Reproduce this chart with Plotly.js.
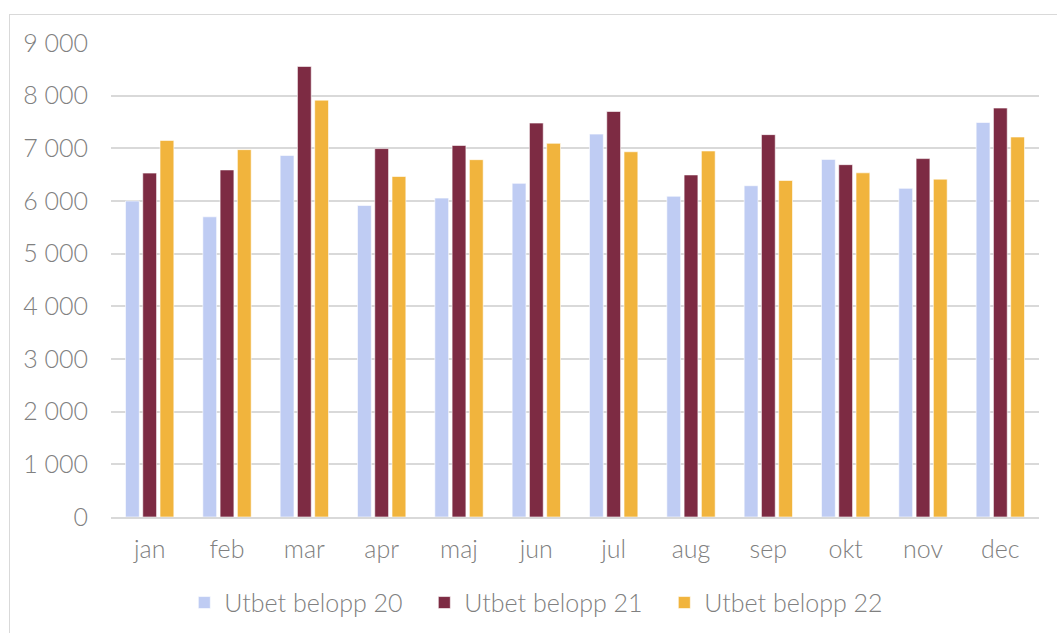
<!DOCTYPE html>
<html>
<head>
<meta charset="utf-8">
<script src="https://cdn.plot.ly/plotly-3.0.1.min.js"></script>
<style>
  html, body { margin: 0; padding: 0; background: #fff; }
  #wrap { position: relative; width: 1057px; height: 633px; }
  #chart { position: absolute; left: 0; top: 0; width: 1057px; height: 633px; }
  #frame { position: absolute; left: 9px; top: 14px; right: -2px; bottom: -2px;
           border: 1px solid #d9d9d9; pointer-events: none; }
</style>
</head>
<body>
<div id="wrap">
  <div id="chart"></div>
  <div id="frame"></div>
</div>
<script>
const months = ["jan","feb","mar","apr","maj","jun","jul","aug","sep","okt","nov","dec"];
const belopp20 = [6000, 5700, 6865, 5915, 6055, 6335, 7270, 6090, 6290, 6790, 6240, 7490];
const belopp21 = [6530, 6590, 8555, 6995, 7055, 7480, 7700, 6495, 7260, 6690, 6805, 7765];
const belopp22 = [7150, 6975, 7915, 6465, 6785, 7095, 6935, 6950, 6390, 6535, 6415, 7215];
const seriesNames = ["Utbet belopp 20", "Utbet belopp 21", "Utbet belopp 22"];
const colors = ["#BFCCF3", "#7D2B43", "#F1B43D"];

const traces = [belopp20, belopp21, belopp22].map((vals, i) => ({
  type: "bar",
  x: months,
  y: vals,
  name: seriesNames[i],
  marker: { color: colors[i], line: { color: "#ffffff", width: 0.6 } },
  hoverinfo: "x+y+name"
}));

const font = { family: "Lato, 'Open Sans', sans-serif", color: "#808080", size: 25, weight: 300 };

const layout = {
  width: 1057, height: 633,
  margin: { l: 111, r: 18, t: 43, b: 116, autoexpand: false },
  paper_bgcolor: "rgba(0,0,0,0)",
  plot_bgcolor: "#ffffff",
  separators: ", ",
  font: font,
  barmode: "group",
  bargap: 0.33,
  bargroupgap: 0.2,
  showlegend: true,
  legend: {
    orientation: "h", x: 0.079, xanchor: "left", y: -0.181, yanchor: "middle",
    font: font, entrywidth: 195, traceorder: "normal"
  },
  xaxis: {
    type: "category", automargin: false,
    showgrid: false, zeroline: false,
    showline: true, linecolor: "#d9d9d9", linewidth: 2,
    ticks: "", tickfont: font, ticklabelstandoff: 9
  },
  yaxis: {
    range: [0, 9000], dtick: 1000, tick0: 0, automargin: false,
    tickformat: ",d",
    showgrid: true, gridcolor: "#d9d9d9", gridwidth: 2,
    zeroline: false, showline: false, ticks: "",
    tickfont: font, ticklabelstandoff: 22
  }
};

Plotly.newPlot("chart", traces, layout, { displayModeBar: false, staticPlot: true });
</script>
</body>
</html>
